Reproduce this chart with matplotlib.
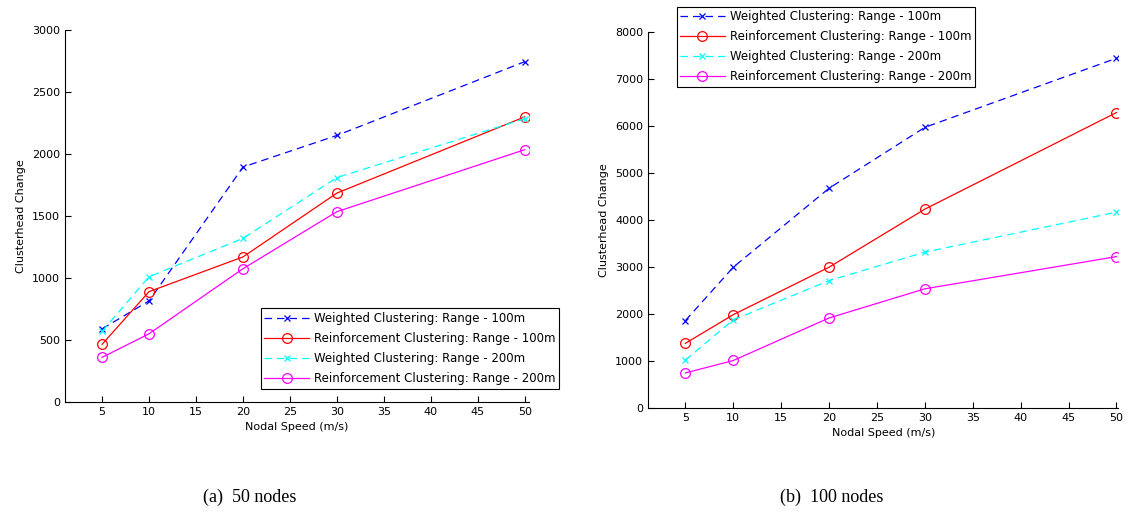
import numpy as np
import matplotlib
matplotlib.use('Agg')
from matplotlib import pyplot as plt

plt.rcParams['font.family'] = ['DejaVu Sans']

# data
speed = [5, 10, 20, 30, 50]

labels = ['Weighted Clustering: Range - 100m',
          'Reinforcement Clustering: Range - 100m',
          'Weighted Clustering: Range - 200m',
          'Reinforcement Clustering: Range - 200m']

# (a) 50 nodes
w100_50 = [590, 815, 1895, 2150, 2745]
r100_50 = [465, 890, 1170, 1685, 2300]
w200_50 = [570, 1010, 1320, 1810, 2285]
r200_50 = [360, 550, 1075, 1535, 2035]

# (b) 100 nodes
w100_100 = [1860, 2995, 4675, 5970, 7440]
r100_100 = [1375, 1985, 2995, 4230, 6285]
w200_100 = [1020, 1875, 2710, 3315, 4165]
r200_100 = [745, 1010, 1915, 2535, 3220]

styles = [dict(color='blue', linestyle=(0, (6, 4)), marker='x'),
          dict(color='red', linestyle='-', marker='o'),
          dict(color='cyan', linestyle=(0, (6, 4)), marker='x'),
          dict(color='magenta', linestyle='-', marker='o')]

fig = plt.figure(figsize=(11.28, 5.18), dpi=100)
ax1 = fig.add_axes([0.0576, 0.224, 0.411, 0.718])
ax2 = fig.add_axes([0.5745, 0.2124, 0.417, 0.726])

def draw(ax, series, ylim, yticks, xlim):
    for y, lab, st in zip(series, labels, styles):
        ms = 5 if st['marker'] == 'x' else 7
        ax.plot(speed, y, label=lab, linewidth=0.9, markersize=ms,
                fillstyle='none', markeredgewidth=0.9, **st)
    ax.set_xlim(xlim)
    ax.set_ylim(ylim)
    ax.set_xticks(range(5, 51, 5))
    ax.set_yticks(yticks)
    ax.spines['top'].set_visible(False)
    ax.spines['right'].set_visible(False)
    ax.tick_params(direction='in', labelsize=8, length=4)
    ax.set_xlabel('Nodal Speed (m/s)', fontsize=8)
    ax.set_ylabel('Clusterhead Change', fontsize=8)

draw(ax1, [w100_50, r100_50, w200_50, r200_50], (0, 3000), range(0, 3001, 500), (1.05, 50.4))
draw(ax2, [w100_100, r100_100, w200_100, r200_100], (0, 8000), range(0, 8001, 1000), (1.1, 50.2))

leg_kw = dict(fontsize=8.5, fancybox=False, framealpha=1, edgecolor='black',
              borderpad=0.3, labelspacing=0.6, handlelength=3.8, handletextpad=0.4)
leg1 = ax1.legend(loc='lower left', bbox_to_anchor=(0.41, 0.02), **leg_kw)
leg1.get_frame().set_linewidth(0.8)
leg2 = ax2.legend(loc='upper left', bbox_to_anchor=(0.048, 1.083), **leg_kw)
leg2.get_frame().set_linewidth(0.8)

fig.text(250 / 1128, 1 - 497 / 518, '(a)  50 nodes', family='Liberation Serif',
         fontsize=13, ha='center', va='center')
fig.text(832 / 1128, 1 - 497 / 518, '(b)  100 nodes', family='Liberation Serif',
         fontsize=13, ha='center', va='center')

fig.savefig('out.png', dpi=100)
